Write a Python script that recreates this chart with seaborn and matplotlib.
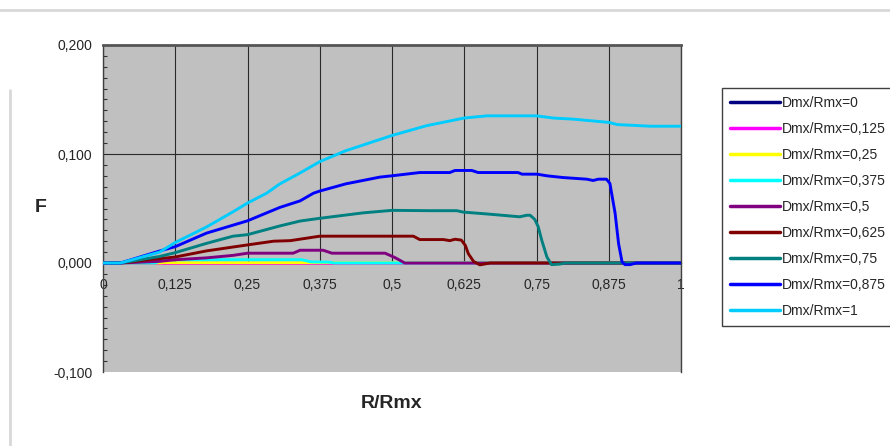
import matplotlib
matplotlib.use("Agg")
import matplotlib.pyplot as plt
import seaborn as sns
from matplotlib.ticker import MultipleLocator, FixedLocator
from matplotlib.lines import Line2D

# ---- data ----
labels = ["Dmx/Rmx=0", "Dmx/Rmx=0,125", "Dmx/Rmx=0,25", "Dmx/Rmx=0,375",
          "Dmx/Rmx=0,5", "Dmx/Rmx=0,625", "Dmx/Rmx=0,75", "Dmx/Rmx=0,875",
          "Dmx/Rmx=1"]
colors = ["#000080", "#FF00FF", "#FFFF00", "#00FFFF", "#800080",
          "#800000", "#008080", "#0000FF", "#00CCFF"]

x_000 = [0, 1]
y_000 = [0, 0]
x_0125 = [0, 1]
y_0125 = [0, 0]
x_025 = [0, 0.1, 0.104, 0.393, 1]
y_025 = [0, 0, 0.0002, 0.0002, 0]
x_0375 = [0, 0.09, 0.104, 0.344, 0.36, 0.39, 0.40, 1]
y_0375 = [0, 0, 0.003, 0.003, 0.001, 0.0008, 0, 0]
x_05 = [0, 0.03, 0.098, 0.125, 0.179, 0.225, 0.25, 0.329, 0.341, 0.381, 0.396,
        0.488, 0.505, 0.522, 1]
y_05 = [0, 0, 0.0015, 0.003, 0.0047, 0.007, 0.009, 0.009, 0.0117, 0.0117, 0.009,
        0.009, 0.005, 0, 0]
x_0625 = [0, 0.03, 0.098, 0.125, 0.179, 0.25, 0.295, 0.324, 0.375, 0.537, 0.548,
          0.589, 0.6, 0.609, 0.62, 0.627, 0.632, 0.641, 0.652, 0.67, 1]
y_0625 = [0, 0, 0.004, 0.0055, 0.0111, 0.0166, 0.020, 0.0205, 0.0246, 0.0246,
          0.0215, 0.0215, 0.0205, 0.0218, 0.021, 0.016, 0.0086, 0.0015, -0.0017,
          0, 0]
x_075 = [0, 0.03, 0.098, 0.125, 0.179, 0.225, 0.25, 0.306, 0.341, 0.375, 0.45,
         0.5, 0.566, 0.612, 0.623, 0.664, 0.721, 0.733, 0.739, 0.747, 0.753,
         0.759, 0.768, 0.776, 0.79, 0.8, 1]
y_075 = [0, 0, 0.006, 0.0095, 0.018, 0.0246, 0.026, 0.034, 0.0385, 0.041, 0.046,
         0.0483, 0.048, 0.048, 0.0467, 0.045, 0.0424, 0.0438, 0.0438, 0.040,
         0.0332, 0.021, 0.0055, -0.0015, -0.001, 0, 0]
x_0875 = [0, 0.03, 0.098, 0.125, 0.179, 0.25, 0.306, 0.341, 0.364, 0.375, 0.42,
          0.479, 0.5, 0.548, 0.6, 0.609, 0.638, 0.649, 0.718, 0.725, 0.751,
          0.768, 0.796, 0.837, 0.848, 0.857, 0.871, 0.877, 0.886, 0.892, 0.898,
          0.903, 0.912, 0.923, 1]
y_0875 = [0, 0, 0.011, 0.015, 0.0274, 0.0387, 0.051, 0.057, 0.064, 0.066, 0.0726,
          0.0788, 0.080, 0.083, 0.083, 0.0849, 0.0849, 0.083, 0.083, 0.0815,
          0.0815, 0.080, 0.0784, 0.0769, 0.0757, 0.0769, 0.0769, 0.073, 0.0456,
          0.0178, 0.001, -0.0015, -0.0015, 0, 0]
x_1 = [0, 0.03, 0.098, 0.125, 0.179, 0.225, 0.25, 0.283, 0.306, 0.341, 0.375,
       0.42, 0.5, 0.56, 0.625, 0.664, 0.75, 0.779, 0.813, 0.875, 0.89, 0.947, 1]
y_1 = [0, 0, 0.010, 0.0188, 0.033, 0.047, 0.055, 0.064, 0.0726, 0.0826, 0.093,
       0.103, 0.117, 0.126, 0.133, 0.135, 0.135, 0.133, 0.132, 0.129, 0.127,
       0.1255, 0.1255]

xs_all = [x_000, x_0125, x_025, x_0375, x_05, x_0625, x_075, x_0875, x_1]
ys_all = [y_000, y_0125, y_025, y_0375, y_05, y_0625, y_075, y_0875, y_1]

x_ticks = [0, 0.125, 0.25, 0.375, 0.5, 0.625, 0.75, 0.875, 1]
x_ticklabels = ["0", "0,125", "0,25", "0,375", "0,5", "0,625", "0,75", "0,875", "1"]
y_ticks = [-0.1, 0.0, 0.1, 0.2]
y_ticklabels = ["-0,100", "0,000", "0,100", "0,200"]

# ---- style ----
sns.set_style("white")
plt.rcParams["font.family"] = ["Liberation Sans", "DejaVu Sans"]

W, H = 890, 446
fig = plt.figure(figsize=(W / 100, H / 100), dpi=100)
ax = fig.add_axes([103 / W, 1 - 372 / H, 578 / W, 327 / H])
ax.set_facecolor("#c0c0c0")

for lab, col, xs, ys in zip(labels, colors, xs_all, ys_all):
    sns.lineplot(x=xs, y=ys, color=col, lw=2.1, label=lab, ax=ax,
                 sort=False, estimator=None, zorder=3)

ax.set_xlim(0, 1)
ax.set_ylim(-0.1, 0.2)

# gridlines
for xv in x_ticks:
    ax.axvline(xv, ymin=1 / 3, ymax=1, color="#2a2a2a", lw=0.8, zorder=1)
ax.axhline(0.1, color="#2a2a2a", lw=0.8, zorder=1)

ax.xaxis.set_major_locator(FixedLocator(x_ticks))
ax.set_xticklabels(x_ticklabels)
ax.xaxis.set_minor_locator(MultipleLocator(0.025))
ax.yaxis.set_major_locator(FixedLocator(y_ticks))
ax.set_yticklabels(y_ticklabels)
ax.yaxis.set_minor_locator(MultipleLocator(0.01))

ax.tick_params(axis="x", which="major", direction="out", length=4, width=0.8,
               pad=7, labelsize=10, color="#333333")
ax.tick_params(axis="x", which="minor", direction="in", length=3, width=0.8,
               color="#333333")
ax.tick_params(axis="y", which="major", direction="out", length=3, width=0.8,
               pad=4.5, labelsize=10, color="#333333")
ax.tick_params(axis="y", which="minor", direction="in", length=3, width=0.8,
               color="#333333", left=True)

for s in ["left", "top", "right", "bottom"]:
    ax.spines[s].set_color("#404040")
    ax.spines[s].set_linewidth(1.0)
ax.spines["bottom"].set_position(("data", 0))
ax.spines["top"].set_linewidth(2.0)
ax.spines["top"].set_color("#555555")

ax.set_xlabel("")
ax.set_ylabel("")
fig.text(41 / W, 1 - 208 / H, "F", fontsize=14, fontweight="bold",
         ha="center", va="center")
fig.text(392 / W, 1 - 403 / H, "R/Rmx", fontsize=14, fontweight="bold",
         ha="center", va="center")

# faint outer chart border
fig.add_artist(Line2D([0.0, 1.0], [1 - 10 / H, 1 - 10 / H],
                      transform=fig.transFigure, color="#d8d8d8", lw=2))
fig.add_artist(Line2D([10 / W, 10 / W], [0.0, 1 - 90 / H],
                      transform=fig.transFigure, color="#d8d8d8", lw=2))

handles, labs = ax.get_legend_handles_labels()
leg = ax.legend(handles, labs, loc="upper left",
                bbox_to_anchor=(722 / W, 1 - 88 / H),
                bbox_transform=fig.transFigure, frameon=True, fancybox=False,
                edgecolor="#404040", facecolor="white", framealpha=1,
                fontsize=10, handlelength=3.6, handletextpad=0.15,
                labelspacing=0.87, borderpad=0.55, borderaxespad=0)
leg.get_frame().set_linewidth(1.0)
for h in leg.legend_handles:
    h.set_linewidth(2.5)

fig.savefig("out.png", dpi=100)
